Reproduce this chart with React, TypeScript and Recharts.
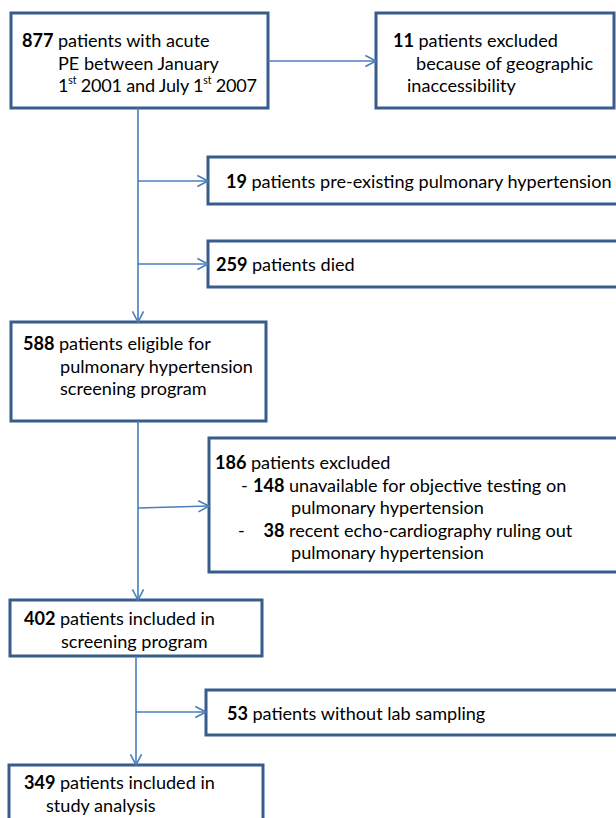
import React from 'react'
import { ComposedChart, XAxis, YAxis, ReferenceArea, ReferenceLine } from 'recharts'

const W = 616
const H = 818

// bold number that opens each box, then the rest of the text, line by line
const boxCounts = [877, 11, 19, 259, 588, 186, 402, 53, 349]
const boxLines = [
  ['patients with acute', 'PE between January', '1^st 2001 and July 1^st 2007'],
  ['patients excluded', 'because of geographic', 'inaccessibility'],
  ['patients pre-existing pulmonary hypertension'],
  ['patients died'],
  ['patients eligible for', 'pulmonary hypertension', 'screening program'],
  ['patients excluded'],
  ['patients included in', 'screening program'],
  ['patients without lab sampling'],
  ['patients included in', 'study analysis'],
]

// breakdown of the 186 excluded
const subCounts = [148, 38]
const subLines = [
  ['unavailable for objective testing on', 'pulmonary hypertension'],
  ['recent echo-cardiography ruling out', 'pulmonary hypertension'],
]

// ---- layout (chart units == px) ----
const boxes = [
  { x1: 11, x2: 268, y1: 13, y2: 108, lx: [11, 47, 47], ty: 27 },
  { x1: 376, x2: 614, y1: 13, y2: 108, lx: [17, 40, 31], ty: 27 },
  { x1: 208, x2: 640, y1: 157, y2: 204, lx: [18], ty: 24 },
  { x1: 208, x2: 640, y1: 241, y2: 287, lx: [8], ty: 23 },
  { x1: 11, x2: 266, y1: 322, y2: 421, lx: [12, 49, 49], ty: 21 },
  { x1: 209, x2: 640, y1: 438, y2: 572, lx: [6], ty: 24 },
  { x1: 10, x2: 262, y1: 600, y2: 656, lx: [14, 51], ty: 18 },
  { x1: 206, x2: 640, y1: 690, y2: 735, lx: [21], ty: 23 },
  { x1: 9, x2: 263, y1: 765, y2: 860, lx: [15, 37], ty: 17 },
]
const SUB_BOX = 5
const subDashX = [32, 29]
const SUB_COUNT_END = 75.5
const SUB_TEXT_X = 80
const SUB_CONT_X = 82

const links = [
  { x1: 268, y1: 61, x2: 376, y2: 61 },
  { x1: 138, y1: 108, x2: 138, y2: 322 },
  { x1: 138, y1: 181, x2: 208, y2: 181 },
  { x1: 138, y1: 264, x2: 208, y2: 264 },
  { x1: 138, y1: 421, x2: 138, y2: 600 },
  { x1: 138, y1: 508, x2: 209, y2: 506 },
  { x1: 136, y1: 656, x2: 136, y2: 765 },
  { x1: 136, y1: 712, x2: 206, y2: 712 },
]

const LINE_H = 22.5
const FONT = 'Lato, "Liberation Sans", sans-serif'
const FS = 18.1
const BORDER = '#385D8A'
const LINK = '#4A7EBB'

function Rich({ s }: { s: string }) {
  // "^st" marks a superscript
  const parts = s.split(/\^(st)/)
  return (
    <>
      {parts.map((p, i) =>
        i % 2 === 1 ? (
          <tspan key={i} dy={-5} fontSize={10.5}>{p}</tspan>
        ) : (
          <tspan key={i} dy={i > 0 ? 5 : 0}>{p}</tspan>
        )
      )}
    </>
  )
}

function BoxText({ i, viewBox }: { i: number; viewBox: any }) {
  const b = boxes[i]
  const x0 = viewBox.x
  const y0 = viewBox.y
  const lines = boxLines[i]
  const common = {
    fontFamily: FONT,
    fontSize: FS,
    fill: '#000',
    dominantBaseline: 'central' as const,
    style: { whiteSpace: 'pre' as const },
  }
  return (
    <g>
      {lines.map((ln, k) => (
        <text
          key={k}
          x={x0 + b.lx[k]}
          y={y0 + b.ty + k * LINE_H}
          letterSpacing={ln.includes('^') ? -0.2 : 0}
          {...common}
        >
          {k === 0 && <tspan fontWeight="bold">{boxCounts[i]} </tspan>}
          <Rich s={ln} />
        </text>
      ))}
      {i === SUB_BOX &&
        subCounts.map((c, j) => {
          const yy = y0 + b.ty + (1 + j * 2) * LINE_H
          return (
            <g key={'s' + j}>
              <text x={x0 + subDashX[j]} y={yy} {...common}>-</text>
              <text x={x0 + SUB_COUNT_END} y={yy} textAnchor="end" fontWeight="bold" {...common}>{c}</text>
              <text x={x0 + SUB_TEXT_X} y={yy} {...common}>{subLines[j][0]}</text>
              <text x={x0 + SUB_CONT_X} y={yy + LINE_H} {...common}>{subLines[j][1]}</text>
            </g>
          )
        })}
    </g>
  )
}

function Arrow(p: any) {
  const { x1, y1, x2, y2 } = p
  const a = Math.atan2(y2 - y1, x2 - x1)
  const L = 12
  const S = 0.48
  const ax = x2 - L * Math.cos(a - S)
  const ay = y2 - L * Math.sin(a - S)
  const bx = x2 - L * Math.cos(a + S)
  const by = y2 - L * Math.sin(a + S)
  return (
    <g>
      <line x1={x1} y1={y1} x2={x2} y2={y2} stroke={LINK} strokeWidth={1.6} />
      <polyline points={`${ax},${ay} ${x2},${y2} ${bx},${by}`} fill="none" stroke={LINK} strokeWidth={1.6} />
    </g>
  )
}

export default function App() {
  return (
    <div style={{ position: 'absolute', left: 0, top: 0, width: W, height: H, background: '#fff' }}>
      <ComposedChart width={W} height={H} margin={{ top: 0, right: 0, bottom: 0, left: 0 }}>
        <XAxis type="number" dataKey="x" domain={[0, W]} allowDataOverflow hide />
        <YAxis type="number" dataKey="y" domain={[0, H]} allowDataOverflow reversed hide />
        {links.map((l, i) => (
          <ReferenceLine
            key={'l' + i}
            segment={[{ x: l.x1, y: l.y1 }, { x: l.x2, y: l.y2 }]}
            ifOverflow="visible"
            shape={(p: any) => <Arrow {...p} />}
          />
        ))}
        {boxes.map((b, i) => (
          <ReferenceArea
            key={'b' + i}
            x1={b.x1}
            x2={b.x2}
            y1={b.y1}
            y2={b.y2}
            fill="#fff"
            fillOpacity={1}
            stroke={BORDER}
            strokeWidth={3}
            ifOverflow="visible"
            label={(p: any) => <BoxText i={i} viewBox={p.viewBox} />}
          />
        ))}
      </ComposedChart>
    </div>
  )
}
